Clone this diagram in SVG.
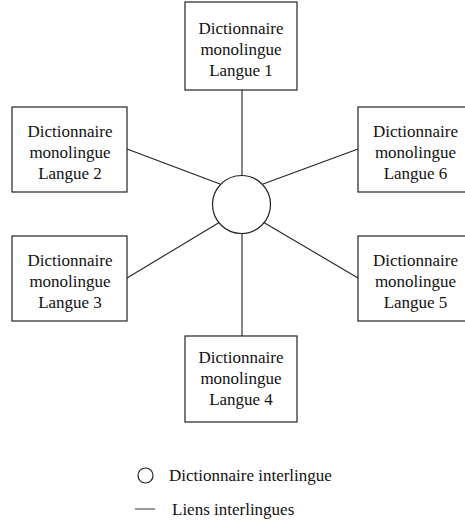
<svg xmlns="http://www.w3.org/2000/svg" width="465" height="524" viewBox="0 0 465 524">
  <style>
    .box { fill: #ffffff; stroke: #222222; stroke-width: 1.2; }
    .hub { fill: #ffffff; stroke: #222222; stroke-width: 1.2; }
    .link { stroke: #222222; stroke-width: 1.1; fill: none; }
    text { font-family: "Liberation Serif", "Times New Roman", serif; font-size: 17px; fill: #111111; }
    .c { text-anchor: middle; }
  </style>
  <rect width="465" height="524" fill="#ffffff"/>

  <!-- links between the hub and each dictionary -->
  <g id="connectors">
    <line class="link" x1="242" y1="90" x2="242" y2="176"/>
    <line class="link" x1="242" y1="233" x2="242" y2="336"/>
    <line class="link" x1="127" y1="149" x2="220" y2="184"/>
    <line class="link" x1="358" y1="149" x2="263" y2="184"/>
    <line class="link" x1="127" y1="278" x2="220" y2="222"/>
    <line class="link" x1="358" y1="278" x2="263" y2="222"/>
  </g>

  <g id="hub">
    <circle class="hub" cx="241.5" cy="204.5" r="29"/>
  </g>

  <g id="langue1">
    <rect class="box" x="185" y="2" width="112" height="88"/>
    <text class="c" x="241" y="34">Dictionnaire</text>
    <text class="c" x="241" y="55">monolingue</text>
    <text class="c" x="241" y="76">Langue 1</text>
  </g>

  <g id="langue2">
    <rect class="box" x="12" y="107" width="115" height="85"/>
    <text class="c" x="70" y="137">Dictionnaire</text>
    <text class="c" x="70" y="158">monolingue</text>
    <text class="c" x="70" y="179">Langue 2</text>
  </g>

  <g id="langue6">
    <rect class="box" x="358" y="107" width="115" height="85"/>
    <text class="c" x="415.5" y="137">Dictionnaire</text>
    <text class="c" x="415.5" y="158">monolingue</text>
    <text class="c" x="415.5" y="179">Langue 6</text>
  </g>

  <g id="langue3">
    <rect class="box" x="12" y="236" width="115" height="85"/>
    <text class="c" x="70" y="266">Dictionnaire</text>
    <text class="c" x="70" y="287">monolingue</text>
    <text class="c" x="70" y="308">Langue 3</text>
  </g>

  <g id="langue5">
    <rect class="box" x="358" y="236" width="115" height="85"/>
    <text class="c" x="415.5" y="266">Dictionnaire</text>
    <text class="c" x="415.5" y="287">monolingue</text>
    <text class="c" x="415.5" y="308">Langue 5</text>
  </g>

  <g id="langue4">
    <rect class="box" x="185" y="336" width="112" height="86"/>
    <text class="c" x="241" y="363">Dictionnaire</text>
    <text class="c" x="241" y="384">monolingue</text>
    <text class="c" x="241" y="405">Langue 4</text>
  </g>

  <!-- legend -->
  <g id="legend">
    <circle class="hub" cx="145.5" cy="475.5" r="7.5"/>
    <text x="169" y="481">Dictionnaire interlingue</text>
    <line x1="135" y1="509" x2="155" y2="509" stroke="#555555" stroke-width="1.2"/>
    <text x="172" y="515">Liens interlingues</text>
  </g>
</svg>
